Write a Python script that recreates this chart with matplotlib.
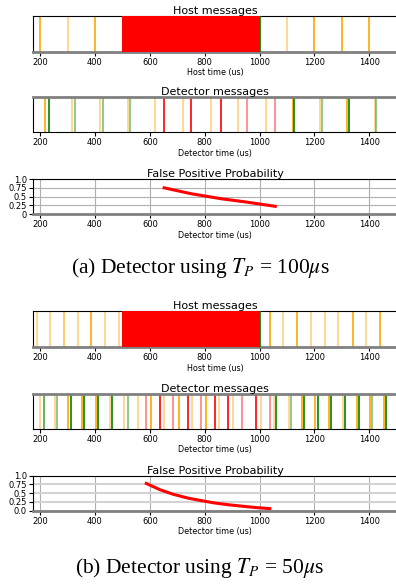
import matplotlib
matplotlib.use("Agg")
import matplotlib.pyplot as plt

# (a) T_P = 100us
host_a_orange = [200, 300, 400, 1100, 1200, 1300, 1400]
host_a_orange_alpha = [1, 0.5, 1, 0.5, 1, 1, 1]
det_a_orange = [218, 318, 419, 519, 618, 720, 823, 921, 1023, 1121, 1219, 1320, 1420]
det_a_orange_alpha = [1, 0.5, 0.5, 0.5, 0.5, 0.5, 0.5, 0.5, 0.5, 1, 0.5, 1, 0.5]
det_a_green = [233, 326, 428, 528, 1127, 1226, 1327, 1426]
det_a_green_alpha = [1, 0.5, 0.5, 0.5, 1, 0.5, 1, 0.5]
det_a_red = [652, 751, 858, 954, 1057]
det_a_red_alpha = [1, 1, 1, 0.5, 0.5]
fpp_a_t = [652, 751, 858, 954, 1057]
fpp_a_p = [0.75, 0.58, 0.44, 0.34, 0.22]

# (b) T_P = 50us
host_b_orange = [187, 237, 287, 337, 387, 437, 487, 1037, 1087, 1137, 1187, 1237, 1287, 1341, 1387, 1437]
host_b_orange_alpha = [0.5, 0.5, 0.7, 0.5, 1, 0.5, 0.5, 1, 0.5, 1, 0.5, 0.5, 0.5, 1, 0.5, 1]
det_b_orange = [201, 253, 302, 353, 402, 453, 504, 555, 603, 653, 705, 755, 803, 853, 904,
                1005, 1052, 1106, 1153, 1203, 1254, 1303, 1355, 1404, 1454]
det_b_orange_alpha = [0.5, 0.5, 1, 1, 1, 0.5, 0.5, 0.5, 1, 0.5, 1, 0.5, 1, 0.5, 0.5,
                      0.5, 0.5, 0.5, 1, 1, 1, 0.5, 1, 1, 1]
det_b_green = [215, 261, 312, 361, 412, 462, 522, 1061, 1115, 1163, 1212, 1262, 1310, 1364, 1411, 1461]
det_b_green_alpha = [0.7, 0.5, 1, 1, 1, 1, 0.5, 1, 0.5, 1, 1, 1, 1, 1, 0.5, 1]
det_b_red = [587, 637, 685, 739, 786, 837, 886, 935, 986, 1037]
det_b_red_alpha = [0.5, 1, 0.5, 1, 0.5, 1, 1, 0.5, 1, 0.5]
fpp_b_t = [587, 637, 685, 739, 786, 837, 886, 935, 986, 1037]
fpp_b_p = [0.78, 0.60, 0.47, 0.36, 0.29, 0.22, 0.17, 0.13, 0.09, 0.06]

attack_start, attack_end = 500, 1000
xticks = [200, 400, 600, 800, 1000, 1200, 1400]
fpp_yticks = [0, 0.25, 0.5, 0.75, 1.0]
fpp_a_ylabels = ["0", "0.25", "0.5", "0.75", "1.0"]
fpp_b_ylabels = ["0.0", "0.25", "0.5", "0.75", "1.0"]
captions = [r"(a) Detector using $T_P$ = 100$\mu$s", r"(b) Detector using $T_P$ = 50$\mu$s"]

plt.rcParams["mathtext.fontset"] = "stix"
XLIM = (175, 1500)
LEFT, WIDTH = 0.084, 0.918


def style_axis(ax, title, xlabel, gray_spine):
    ax.set_xlim(*XLIM)
    ax.set_xticks(xticks)
    ax.tick_params(axis="x", labelsize=6, length=3, pad=1.5)
    ax.set_title(title, fontsize=8, pad=1.5)
    ax.set_xlabel(xlabel, fontsize=5.8, labelpad=1)
    ax.spines[gray_spine].set_color("gray")
    ax.spines[gray_spine].set_linewidth(2)


def vlines(ax, xs, alphas, color):
    for x, a in zip(xs, alphas):
        ax.axvline(x, color=color, alpha=a, lw=1.2)


def draw_set(bottoms, host_x, host_a, do, doa, dg, dga, dr, dra, ft, fp, ylabels, caption, cap_y, light_grid):
    ax = fig.add_axes([LEFT, bottoms[0], WIDTH, 0.0605])
    ax.axvspan(attack_start, attack_end, color="red", zorder=3, lw=0)
    vlines(ax, host_x, host_a, "orange")
    ax.axvline(attack_end, color="green", lw=1.2, zorder=4)
    ax.set_yticks([])
    style_axis(ax, "Host messages", "Host time (us)", "bottom")

    ax = fig.add_axes([LEFT, bottoms[1], WIDTH, 0.0595])
    vlines(ax, do, doa, "orange")
    vlines(ax, dg, dga, "green")
    vlines(ax, dr, dra, "red")
    ax.set_yticks([])
    style_axis(ax, "Detector messages", "Detector time (us)", "top")

    ax = fig.add_axes([LEFT, bottoms[2], WIDTH, 0.0595])
    ax.plot(ft, fp, color="red", lw=2.2)
    ax.set_ylim(0, 1)
    ax.set_yticks(fpp_yticks)
    ax.set_yticklabels(ylabels)
    ax.tick_params(axis="y", labelsize=6, length=3, pad=1.5)
    ax.xaxis.grid(True, color="#b0b0b0", lw=0.8)
    if light_grid:
        ax.yaxis.grid(True, color="#d3d3d3", lw=1.5)
    else:
        ax.yaxis.grid(True, color="#b0b0b0", lw=0.8)
    style_axis(ax, "False Positive Probability", "Detector time (us)", "bottom")

    fig.text(0.505, cap_y, caption, ha="center", va="center", fontsize=15.5,
             family="Liberation Serif")


fig = plt.figure(figsize=(3.96, 5.87), dpi=100)
draw_set([0.912, 0.775, 0.6354], host_a_orange, host_a_orange_alpha,
         det_a_orange, det_a_orange_alpha, det_a_green, det_a_green_alpha,
         det_a_red, det_a_red_alpha, fpp_a_t, fpp_a_p, fpp_a_ylabels,
         captions[0], 0.5434, False)
draw_set([0.4089, 0.2697, 0.13], host_b_orange, host_b_orange_alpha,
         det_b_orange, det_b_orange_alpha, det_b_green, det_b_green_alpha,
         det_b_red, det_b_red_alpha, fpp_b_t, fpp_b_p, fpp_b_ylabels,
         captions[1], 0.0324, True)

fig.savefig("out.png", dpi=100)
